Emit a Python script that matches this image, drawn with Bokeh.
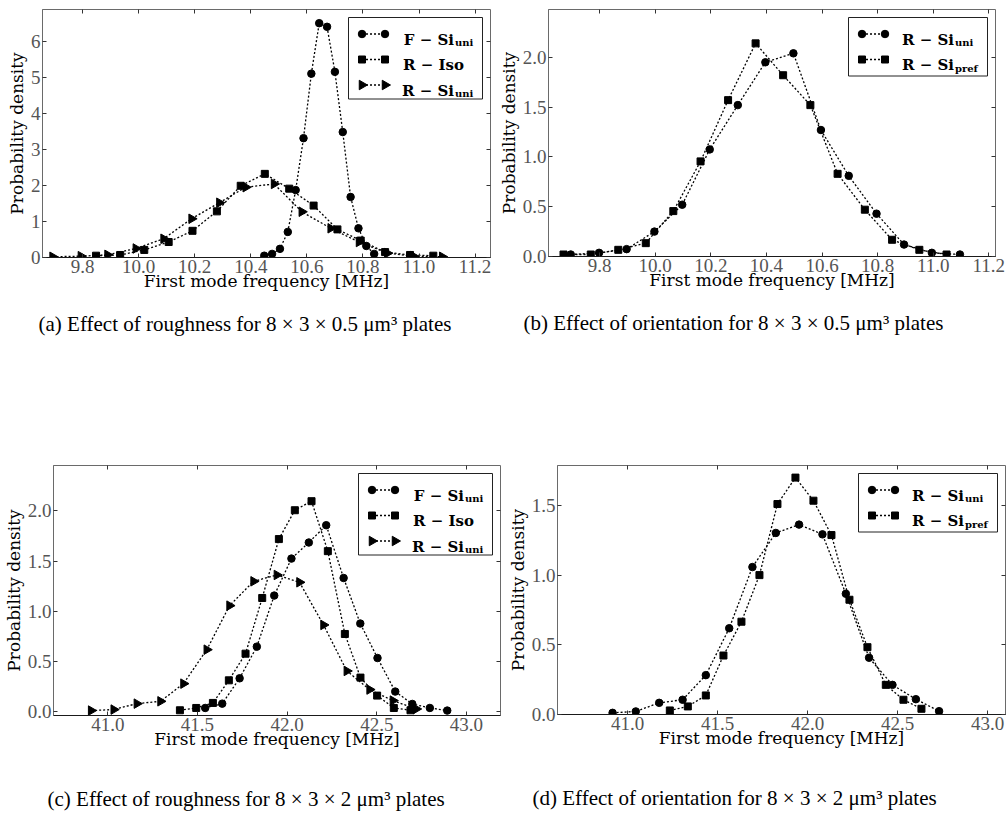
import numpy as np
from bokeh.plotting import figure
from bokeh.models import Range1d, FixedTicker, PrintfTickFormatter, LinearAxis, Title, CustomJSTickFormatter
from bokeh.layouts import row, column
from bokeh.embed import file_html
from bokeh.resources import INLINE
from bokeh.core.properties import value

# ---------------- data ----------------
# (a) 8x3x0.5 roughness
a_fsi_x = [10.448, 10.476, 10.504, 10.532, 10.560, 10.588, 10.616, 10.644, 10.672, 10.700, 10.728, 10.756, 10.784, 10.812, 10.840]
a_fsi_y = [0.05, 0.10, 0.24, 0.71, 1.87, 3.31, 5.10, 6.50, 6.40, 5.15, 3.48, 1.68, 0.81, 0.32, 0.10]
a_riso_x = [9.848, 9.934, 10.020, 10.107, 10.192, 10.279, 10.364, 10.450, 10.537, 10.624, 10.709, 10.792, 10.879, 10.968, 11.051]
a_riso_y = [0.05, 0.07, 0.21, 0.43, 0.74, 1.28, 1.99, 2.32, 1.91, 1.44, 0.78, 0.47, 0.15, 0.07, 0.05]
a_rsi_x = [9.693, 9.794, 9.889, 9.990, 10.089, 10.189, 10.288, 10.382, 10.483, 10.582, 10.685, 10.786, 10.887, 10.980, 11.083]
a_rsi_y = [0.02, 0.037, 0.074, 0.25, 0.52, 1.075, 1.52, 1.95, 2.04, 1.27, 0.81, 0.43, 0.12, 0.037, 0.02]

# (b) 8x3x0.5 orientation
b_rsi_x = [9.696, 9.798, 9.897, 9.997, 10.097, 10.196, 10.297, 10.396, 10.497, 10.596, 10.696, 10.796, 10.895, 10.995, 11.096]
b_rsi_y = [0.02, 0.037, 0.074, 0.25, 0.52, 1.075, 1.52, 1.95, 2.04, 1.27, 0.81, 0.43, 0.12, 0.037, 0.02]
b_rpref_x = [9.670, 9.768, 9.867, 9.966, 10.065, 10.163, 10.262, 10.361, 10.460, 10.558, 10.656, 10.754, 10.852, 10.950, 11.048]
b_rpref_y = [0.02, 0.02, 0.067, 0.134, 0.456, 0.955, 1.57, 2.14, 1.82, 1.52, 0.83, 0.47, 0.168, 0.067, 0.02]

# (c) 8x3x2 roughness
c_fsi_x = [41.543, 41.638, 41.735, 41.831, 41.928, 42.024, 42.121, 42.218, 42.315, 42.408, 42.504, 42.603, 42.698, 42.796, 42.893]
c_fsi_y = [0.04, 0.083, 0.335, 0.65, 1.158, 1.526, 1.686, 1.858, 1.333, 0.88, 0.537, 0.203, 0.08, 0.04, 0.014]
c_riso_x = [41.402, 41.493, 41.586, 41.675, 41.768, 41.861, 41.954, 42.043, 42.136, 42.227, 42.322, 42.409, 42.502, 42.595, 42.688]
c_riso_y = [0.017, 0.04, 0.09, 0.315, 0.58, 1.134, 1.72, 2.007, 2.097, 1.60, 0.776, 0.342, 0.163, 0.04, 0.017]
c_rsi_x = [40.907, 41.033, 41.162, 41.294, 41.422, 41.552, 41.679, 41.813, 41.943, 42.069, 42.203, 42.333, 42.460, 42.590, 42.720]
c_rsi_y = [0.014, 0.024, 0.083, 0.106, 0.282, 0.62, 1.058, 1.30, 1.363, 1.29, 0.866, 0.408, 0.223, 0.113, 0.03]

# (d) 8x3x2 orientation
d_rsi_x = [40.917, 41.046, 41.176, 41.306, 41.435, 41.565, 41.694, 41.824, 41.953, 42.083, 42.213, 42.342, 42.472, 42.602, 42.731]
d_rsi_y = [0.012, 0.022, 0.084, 0.106, 0.283, 0.62, 1.06, 1.305, 1.365, 1.295, 0.868, 0.408, 0.213, 0.11, 0.024]
d_rpref_x = [41.235, 41.335, 41.435, 41.533, 41.633, 41.733, 41.833, 41.933, 42.033, 42.133, 42.233, 42.333, 42.435, 42.533, 42.633]
d_rpref_y = [0.029, 0.058, 0.137, 0.424, 0.667, 1.002, 1.513, 1.703, 1.537, 1.29, 0.825, 0.484, 0.213, 0.106, 0.041]

# ticks
x_ticks_small = [9.8, 10.0, 10.2, 10.4, 10.6, 10.8, 11.0, 11.2]
x_ticks_large = [41.0, 41.5, 42.0, 42.5, 43.0]
y_ticks_a = [0, 1, 2, 3, 4, 5, 6]
y_ticks_b = [0.0, 0.5, 1.0, 1.5, 2.0]
y_ticks_c = [0.0, 0.5, 1.0, 1.5, 2.0]
y_ticks_d = [0.0, 0.5, 1.0, 1.5]

x_label = "First mode frequency [MHz]"
y_label = "Probability density"
captions = [
    "(a) Effect of roughness for 8 \u00d7 3 \u00d7 0.5 \u03bcm\u00b3 plates",
    "(b) Effect of orientation for 8 \u00d7 3 \u00d7 0.5 \u03bcm\u00b3 plates",
    "(c) Effect of roughness for 8 \u00d7 3 \u00d7 2 \u03bcm\u00b3 plates",
    "(d) Effect of orientation for 8 \u00d7 3 \u00d7 2 \u03bcm\u00b3 plates",
]

MARK = {
    "circle": dict(marker="circle", size=7.5, angle=0.0),
    "square": dict(marker="square", size=7.0, angle=0.0),
    "tri": dict(marker="triangle", size=9.5, angle=-np.pi / 2),
}

TICK_FONT = "Liberation Serif"
LABEL_FONT = "DejaVu Serif"


def make_panel(xr, yr, fw, fh, borders, xticks, yticks, yfmt, series, legend_w,
               caption, cap_dx, cap_standoff, cap_gap):
    x0, x1 = xr
    y0, y1 = yr
    p = figure(frame_width=fw, frame_height=fh,
               x_range=Range1d(x0, x1), y_range=Range1d(y0, y1),
               output_backend="svg", toolbar_location=None,
               min_border_left=borders[0], min_border_right=borders[1],
               min_border_top=borders[2], min_border_bottom=borders[3])
    p.grid.visible = False
    p.background_fill_color = "white"
    p.border_fill_color = "white"
    p.outline_line_color = "#6a6a6a"
    p.outline_line_width = 1

    for ax, ticks, fmt in ((p.xaxis[0], xticks, "%.1f"), (p.yaxis[0], yticks, yfmt)):
        ax.ticker = FixedTicker(ticks=ticks)
        ax.formatter = PrintfTickFormatter(format=fmt)
        ax.major_tick_in = 4
        ax.major_tick_out = 0
        ax.minor_tick_line_color = None
        ax.major_tick_line_color = "#333333"
        ax.major_label_text_font = TICK_FONT
        ax.major_label_text_font_size = "19px"
        ax.major_label_text_color = "#555555"
        ax.axis_label_text_font = LABEL_FONT
        ax.axis_label_text_font_size = "17px"
        ax.axis_label_text_font_style = "normal"
        ax.axis_label_text_color = "black"
    p.xaxis[0].axis_label = x_label
    p.xaxis[0].axis_line_color = "#1a1a1a"
    p.xaxis[0].major_label_standoff = 2
    p.xaxis[0].axis_label_standoff = -5
    p.yaxis[0].axis_label = y_label
    p.yaxis[0].axis_line_color = "#6a6a6a"
    p.yaxis[0].major_label_standoff = 2
    p.yaxis[0].axis_label_standoff = 1

    blank = CustomJSTickFormatter(code="return ''")
    top = LinearAxis(ticker=FixedTicker(ticks=xticks), formatter=blank,
                     major_label_text_font_size="0px", major_label_standoff=0,
                     axis_line_color=None, major_tick_in=4, major_tick_out=0,
                     minor_tick_line_color=None, major_tick_line_color="#333333")
    right = LinearAxis(ticker=FixedTicker(ticks=yticks), formatter=blank,
                       major_label_text_font_size="0px", major_label_standoff=0,
                       axis_line_color=None, major_tick_in=4, major_tick_out=0,
                       minor_tick_line_color=None, major_tick_line_color="#333333")
    p.add_layout(top, "above")
    p.add_layout(right, "right")

    for xs, ys, mk, _, _ in series:
        p.line(xs, ys, line_color="black", line_width=1.3, line_dash="2 2")
        p.scatter(xs, ys, fill_color="black", line_color="black", **MARK[mk])

    # legend (positioned in pixels from frame top-left, converted to data units)
    kx = (x1 - x0) / fw
    ky = (y1 - y0) / fh
    X = lambda px: x0 + px * kx
    Y = lambda py: y1 - py * ky
    n = len(series)
    box_h = 81.5 if n == 3 else 58.5
    L = fw - 8 - legend_w
    T = 8
    p.quad(left=[X(L)], right=[X(L + legend_w)], top=[Y(T)], bottom=[Y(T + box_h)],
           fill_color="white", line_color="#222222", line_width=1)
    for i, (xs, ys, mk, main, sub) in enumerate(series):
        cy = T + 16.5 + 25.5 * i
        lx = [X(L + 13.5), X(L + 36.5)]
        ly = [Y(cy), Y(cy)]
        p.line(lx, ly, line_color="black", line_width=1.3, line_dash="2 2")
        p.scatter(lx, ly, fill_color="black", line_color="black", **MARK[mk])
        if sub is None:
            p.text([X(L + 54.5)], [Y(cy + 5.5)], text=[main], text_align="left",
                   text_baseline="alphabetic", text_font=value(LABEL_FONT),
                   text_font_style="bold", text_font_size="15px", text_color="black")
        else:
            anchor = L + 105.5
            p.text([X(anchor)], [Y(cy + 5.5)], text=[main], text_align="right",
                   text_baseline="alphabetic", text_font=value(LABEL_FONT),
                   text_font_style="bold", text_font_size="15px", text_color="black")
            p.text([X(anchor + 1)], [Y(cy + 8.5)], text=[sub], text_align="left",
                   text_baseline="alphabetic", text_font=value(LABEL_FONT),
                   text_font_style="bold", text_font_size="10px", text_color="black")

    # spacer axis (white ticks pointing away from the frame, no labels) between the
    # x axis and the caption
    if cap_gap > 0:
        spacer = LinearAxis(ticker=FixedTicker(ticks=[0.5 * (x0 + x1)]), formatter=blank,
                            major_label_text_font_size="0px", major_label_standoff=0,
                            axis_line_color=None, major_tick_in=0, major_tick_out=cap_gap,
                            minor_tick_in=0, minor_tick_out=0,
                            major_tick_line_color="white", major_tick_line_width=1,
                            minor_tick_line_color=None)
        p.add_layout(spacer, "below")

    t = Title(text=caption, align="left", offset=cap_dx, standoff=cap_standoff,
              text_font=TICK_FONT, text_font_size="21px", text_font_style="normal",
              text_color="black")
    p.add_layout(t, "below")
    return p


# borders: (left, right, top, bottom); top row widths 495 + 511 = 1006
pa = make_panel((9.657, 11.255), (0.0, 6.88), 448, 248, (42, 5, 8, 97),
                x_ticks_small, y_ticks_a, "%d",
                [(a_fsi_x, a_fsi_y, "circle", "F \u2212 Si", "uni"),
                 (a_riso_x, a_riso_y, "square", "R \u2212 Iso", None),
                 (a_rsi_x, a_rsi_y, "tri", "R \u2212 Si", "uni")],
                134, captions[0], -4, 33, 0)
pb = make_panel((9.616, 11.224), (0.0, 2.48), 447, 247, (50, 14, 9, 97),
                x_ticks_small, y_ticks_b, "%.1f",
                [(b_rsi_x, b_rsi_y, "circle", "R \u2212 Si", "uni"),
                 (b_rpref_x, b_rpref_y, "square", "R \u2212 Si", "pref")],
                139, captions[1], -25, 33, 0)
pc = make_panel((40.697, 43.19), (-0.035, 2.452), 447, 250, (53, 1, 111, 100),
                x_ticks_large, y_ticks_c, "%.1f",
                [(c_fsi_x, c_fsi_y, "circle", "F \u2212 Si", "uni"),
                 (c_riso_x, c_riso_y, "square", "R \u2212 Iso", None),
                 (c_rsi_x, c_rsi_y, "tri", "R \u2212 Si", "uni")],
                134, captions[2], -6, 0, 33)
pd_ = make_panel((40.611, 43.10), (0.0, 1.79), 448, 249, (56, 1, 112, 101),
                 x_ticks_large, y_ticks_d, "%.1f",
                 [(d_rsi_x, d_rsi_y, "circle", "R \u2212 Si", "uni"),
                  (d_rpref_x, d_rpref_y, "square", "R \u2212 Si", "pref")],
                 139, captions[3], -25, 0, 33)

layout = column(row(pa, pb), row(pc, pd_))
open("out.html", "w").write(file_html(layout, INLINE))
